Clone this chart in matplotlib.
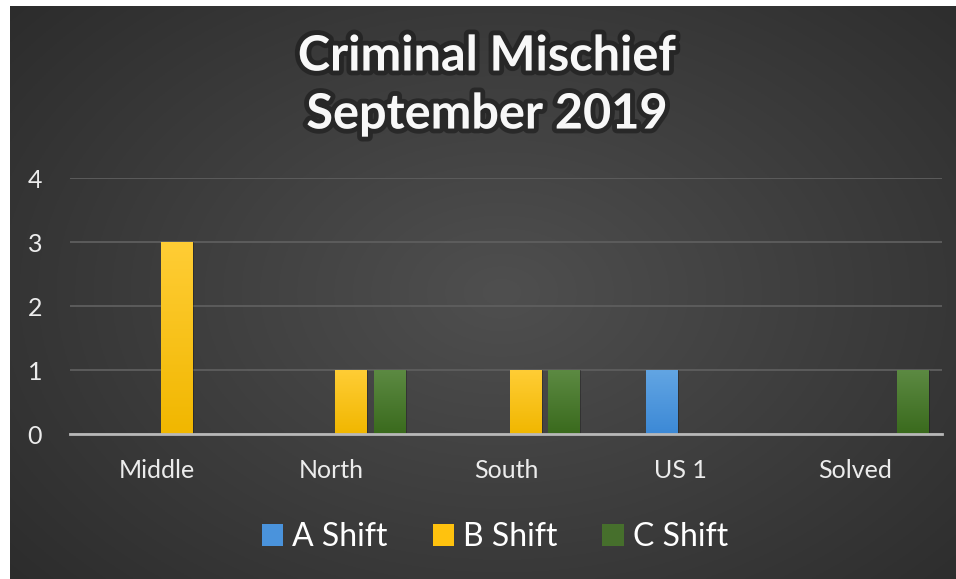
import numpy as np
import matplotlib.pyplot as plt
import matplotlib.patheffects as pe
from matplotlib.colors import LinearSegmentedColormap
from matplotlib.patches import Patch

# data
categories = ['Middle', 'North', 'South', 'US 1', 'Solved']
series_names = ['A Shift', 'B Shift', 'C Shift']
a_shift = [0, 0, 0, 1, 0]
b_shift = [3, 1, 1, 0, 0]
c_shift = [0, 1, 1, 0, 1]
yticks = [0, 1, 2, 3, 4]

# look
font = ['Lato', 'DejaVu Sans']
plt.rcParams['font.family'] = font
top_colors = ['#62a5e3', '#ffcd35', '#5c8a42']
bottom_colors = ['#3c89d6', '#f1b700', '#3a6a1d']
legend_colors = ['#4a93dc', '#ffc20e', '#466f2c']

W, H = 956, 579
fig = plt.figure(figsize=(W / 100, H / 100), dpi=100)
fig.patch.set_facecolor('white')

# dark radial background, leaving a thin white strip left and top
bg = fig.add_axes([10 / W, 0, (W - 10) / W, (H - 6) / H])
bg.set_axis_off()
yy, xx = np.mgrid[0:1:300j, 0:1:500j]
r = np.sqrt(((xx - 0.52) / 0.75) ** 2 + ((yy - 0.5) / 0.85) ** 2)
shade = np.clip(0.31 - 0.15 * r, 0.15, 0.31)
bg.imshow(np.dstack([shade] * 3), aspect='auto', extent=[0, 1, 0, 1])
bg.set_xlim(0, 1)
bg.set_ylim(0, 1)

ax = fig.add_axes([70 / W, (H - 434) / H, 872 / W, 256 / H])
ax.set_facecolor('none')

x = np.arange(len(categories))
step = 0.2208
width = 0.178
offsets = [-0.5 * step, 0.5 * step, 1.5 * step]
all_series = [a_shift, b_shift, c_shift]

grad = np.linspace(0, 1, 100).reshape(-1, 1)
for vals, off, c_top, c_bot in zip(all_series, offsets, top_colors, bottom_colors):
    cmap = LinearSegmentedColormap.from_list('g', [c_bot, c_top])
    bars = ax.bar(x + off, vals, width, color=c_bot, zorder=3)
    for bar in bars:
        h = bar.get_height()
        if h == 0:
            continue
        # faint shadow on the right
        ax.bar(bar.get_x() + bar.get_width() / 2 + 0.012, h, width, color='black',
               alpha=0.25, zorder=2)
        x0 = bar.get_x()
        im = ax.imshow(grad, cmap=cmap, aspect='auto', origin='lower',
                       extent=[x0, x0 + width, 0, h], zorder=4)
        im.set_clip_path(bar)

ax.set_xlim(-0.5, len(categories) - 0.5)
ax.set_ylim(0, 4)
ax.set_yticks(yticks)
ax.set_xticks(x)
ax.set_xticklabels(categories)
ax.grid(axis='y', color='#5e5e5e', linewidth=1.3, zorder=0)
ax.set_axisbelow(True)
for side in ['top', 'right', 'left']:
    ax.spines[side].set_visible(False)
ax.spines['bottom'].set_color('#b8b8b8')
ax.spines['bottom'].set_linewidth(2)
ax.spines['bottom'].set_zorder(5)
ax.tick_params(axis='both', length=0, labelsize=18, colors='#ececec')
ax.tick_params(axis='x', pad=18)
ax.tick_params(axis='y', pad=20)

title_fx = [pe.withStroke(linewidth=7, foreground='#161616', alpha=0.55)]
fig.text(487 / W, 1 - 56 / H, 'Criminal Mischief', ha='center', va='center',
         fontsize=35, fontweight='bold', color='#f8f8f8', path_effects=title_fx)
fig.text(487 / W, 1 - 114 / H, 'September 2019', ha='center', va='center',
         fontsize=35, fontweight='bold', color='#f8f8f8', path_effects=title_fx)

handles = [Patch(facecolor=c, edgecolor='none') for c in legend_colors]
leg = fig.legend(handles, series_names, loc='center', bbox_to_anchor=(495 / W, 1 - 537 / H),
                 ncol=3, frameon=False, fontsize=23, handlelength=0.66, handleheight=0.66,
                 handletextpad=0.3, columnspacing=1.4)
for t in leg.get_texts():
    t.set_color('white')

fig.savefig('out.png', dpi=100)
